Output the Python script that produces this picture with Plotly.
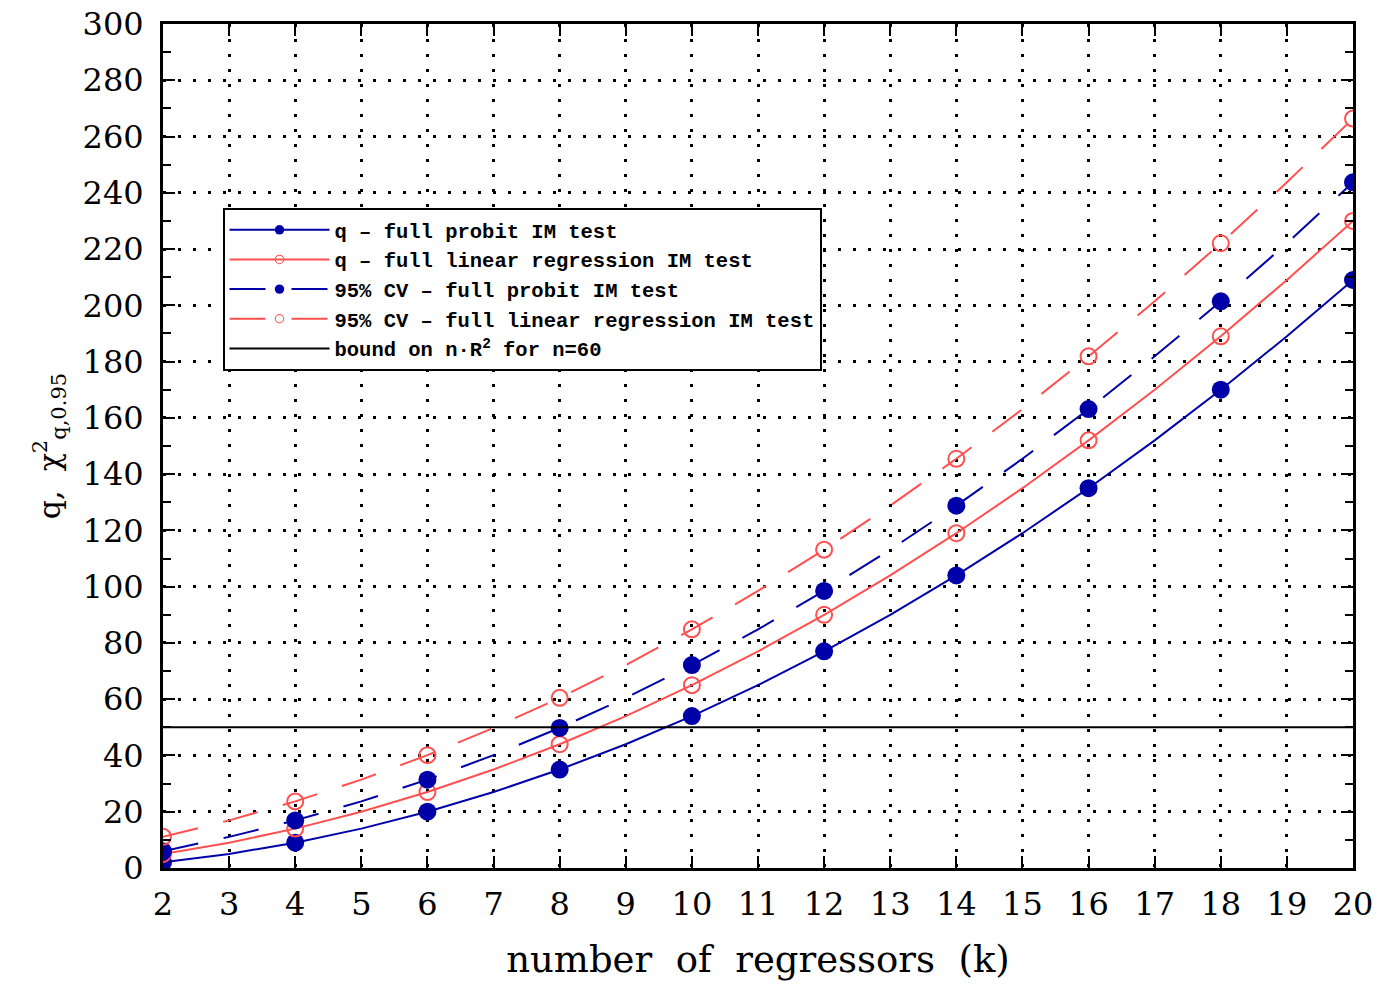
import plotly.graph_objects as go

# number of regressors
k = list(range(2, 21))

# degrees of freedom q of the full IM tests
q_probit = [2, 5, 9, 14, 20, 27, 35, 44, 54, 65, 77, 90, 104, 119, 135, 152, 170, 189, 209]
q_linreg = [5, 9, 14, 20, 27, 35, 44, 54, 65, 77, 90, 104, 119, 135, 152, 170, 189, 209, 230]

# 95% chi-square critical values
cv_probit = [5.99, 11.07, 16.92, 23.68, 31.41, 40.11, 49.80, 60.48, 72.15, 84.82,
             98.48, 113.15, 128.80, 145.46, 163.12, 181.87, 201.42, 222.07, 243.73]
cv_linreg = [11.07, 16.92, 23.68, 31.41, 40.11, 49.80, 60.48, 72.15, 84.82, 98.48,
             113.15, 128.80, 145.46, 163.12, 181.87, 201.42, 222.07, 243.73, 266.38]

# bound on n*R^2
bound = [50] * len(k)

BLUE = "#0000a8"
RED = "#ff4f4f"

# markers only on even k
filled_size = [18 if v % 2 == 0 else 0 for v in k]
open_size = [16 if v % 2 == 0 else 0 for v in k]
open_lw = [2 if v % 2 == 0 else 0 for v in k]

fig = go.Figure()

fig.add_trace(go.Scatter(
    x=k, y=q_probit, mode="lines+markers", name="q \u2013 full probit IM test",
    line=dict(color=BLUE, width=2),
    marker=dict(symbol="circle", size=filled_size, color=BLUE, opacity=1, line=dict(width=0)),
))
fig.add_trace(go.Scatter(
    x=k, y=q_linreg, mode="lines+markers", name="q \u2013 full linear regression IM test",
    line=dict(color=RED, width=2),
    marker=dict(symbol="circle-open", size=open_size, color=RED, opacity=1,
                line=dict(width=open_lw, color=RED)),
))
fig.add_trace(go.Scatter(
    x=k, y=cv_probit, mode="lines+markers", name="95% CV \u2013 full probit IM test",
    line=dict(color=BLUE, width=2, dash="36px,26px"),
    marker=dict(symbol="circle", size=filled_size, color=BLUE, opacity=1, line=dict(width=0)),
))
fig.add_trace(go.Scatter(
    x=k, y=cv_linreg, mode="lines+markers", name="95% CV \u2013 full linear regression IM test",
    line=dict(color=RED, width=2, dash="36px,26px"),
    marker=dict(symbol="circle-open", size=open_size, color=RED, opacity=1,
                line=dict(width=open_lw, color=RED)),
))
fig.add_trace(go.Scatter(
    x=k, y=bound, mode="lines", name="bound on n\u00b7R<sup>2</sup> for n=60",
    line=dict(color="black", width=2),
))

tick_font = dict(family="DejaVu Serif", size=32, color="black")

fig.update_layout(
    width=1390, height=984,
    margin=dict(l=163, r=37, t=24, b=116),
    paper_bgcolor="white", plot_bgcolor="white",
    showlegend=True,
    legend=dict(
        x=0.05, y=0.782, xanchor="left", yanchor="top",
        bgcolor="white", bordercolor="black", borderwidth=2,
        font=dict(family="Liberation Mono", size=20.5, color="black", weight="bold"),
        itemwidth=100, tracegroupgap=0,
    ),
)

fig.update_xaxes(
    range=[2, 20], dtick=1, tick0=2, automargin=False,
    showline=True, linecolor="black", linewidth=3, mirror="ticks",
    ticks="inside", ticklen=12, tickwidth=2, tickcolor="black",
    showgrid=True, gridcolor="black", gridwidth=2.5, griddash="3px,12px",
    zeroline=False, tickfont=tick_font, ticklabelstandoff=6,
    title=dict(text="number\u00a0\u00a0of\u00a0\u00a0regressors\u00a0\u00a0(k)", standoff=24,
               font=dict(family="DejaVu Serif", size=37, color="black")),
)
fig.update_yaxes(
    range=[0, 300], dtick=20, tick0=0, automargin=False,
    showline=True, linecolor="black", linewidth=3, mirror="ticks",
    ticks="inside", ticklen=12, tickwidth=2, tickcolor="black",
    minor=dict(dtick=10, ticks="inside", ticklen=8, tickwidth=2, tickcolor="black", showgrid=False),
    showgrid=True, gridcolor="black", gridwidth=2.5, griddash="3px,12px",
    zeroline=False, tickfont=tick_font, ticklabelstandoff=10,
    title=dict(text="q,  \u03c7<sup>2</sup><sub>q,0.95</sub>", standoff=14,
               font=dict(family="DejaVu Serif", size=30, color="black")),
)

fig.write_html("out.html")
